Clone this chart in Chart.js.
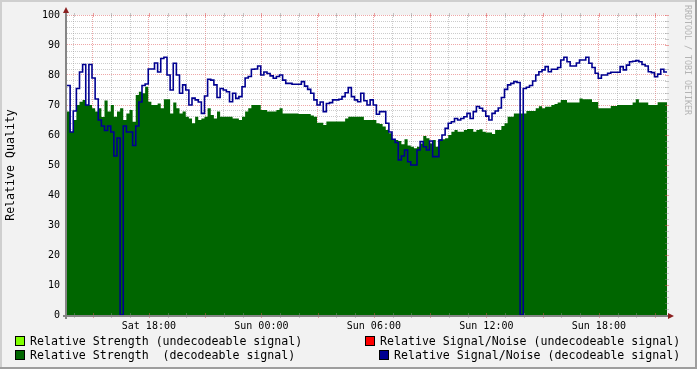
<!DOCTYPE html>
<html><head><meta charset="utf-8">
<script src="https://cdn.jsdelivr.net/npm/chart.js@4/dist/chart.umd.min.js"></script>
<style>
html,body{margin:0;padding:0;background:#F2F2F2;}
#wrap{position:relative;width:697px;height:369px;overflow:hidden;}
canvas{position:absolute;left:0;top:0;}
.lg{position:absolute;font-family:'DejaVu Sans Mono',monospace;font-size:11.6px;line-height:14px;white-space:pre;color:#000;}
.bx{position:absolute;width:8px;height:8px;border:1px solid #000;}
#wm{position:absolute;left:683px;top:5px;width:10px;writing-mode:vertical-rl;font-family:'DejaVu Sans Mono',monospace;font-size:8.3px;color:#B4B4B4;line-height:10px;white-space:pre;}
</style></head>
<body><div id="wrap"><canvas id="c" width="697" height="369"></canvas>
<div id="wm">RRDTOOL / TOBI OETIKER</div>
<div id="legend"></div>
</div>
<script>
// time base: first sample Sat 13:38 (minutes since Sat 00:00), 10-minute samples
const startMinute = 818;
const stepMinutes = 10;
const axisEndMinute = 2738;

// Relative Signal/Noise (decodeable signal), one value per sample
const snrDecodeable = [
 76.5, 61, 68, 75.5, 81, 83.5, 70, 83.5, 79, 72,
 65, 63, 61.5, 63, 61, 53, 59, 0, 63, 61,
 61, 56.5, 63, 71, 76.5, 77, 82, 82, 84, 81,
 85.5, 85.9, 80, 75, 83.9, 80, 73.9, 76.7, 75, 70,
 72.3, 71.7, 71, 67.2, 73, 78.6, 78.3, 76.7, 72.5, 75.5,
 75, 74.4, 71.1, 73.9, 72.2, 72.8, 76.1, 79, 79.5, 81.9,
 82, 83, 80, 81, 80.5, 79.7, 78.9, 79.5, 80, 78.3,
 77.2, 77.2, 76.9, 76.9, 76.9, 77.8, 76.3, 75.2, 73.9, 71.7,
 70, 71, 67.8, 70.5, 70.8, 71.7, 71.7, 71.9, 72.8, 74.1,
 75.8, 72.8, 71.7, 71.1, 73.9, 71.4, 70, 71.7, 70, 66.9,
 67.8, 67.8, 63.9, 61, 58.6, 57.5, 51.7, 53, 55, 51.1,
 50, 50, 55, 57.8, 56.1, 55, 58, 52.8, 52.8, 58.3,
 60, 62.2, 63.9, 64.4, 65.5, 65, 65.5, 66.1, 67.2, 65.5,
 67.8, 69.5, 68.9, 68, 66.3, 65, 67.2, 68, 69, 72.5,
 75.2, 76.7, 77.2, 77.8, 77.5, 0, 75.5, 75.9, 76.5, 78,
 80, 81.1, 81.7, 82.8, 81.1, 81.9, 81.9, 82.5, 85, 85.9,
 84.4, 83, 83, 84, 85, 85, 85.9, 83.9, 82.5, 80.6,
 78.9, 80, 80, 80.6, 80.9, 80.9, 80.9, 82.8, 81.7, 83.3,
 84.4, 84.6, 84.8, 84.4, 83.5, 83, 81.1, 80.8, 79.4, 80.3,
 81.9, 81
];

// Relative Strength (decodeable signal), one value per sample
const strengthDecodeable = [
 67.8, 61, 65, 70, 71.1, 71.7, 70, 70, 68.9, 67.8,
 68.9, 66, 71.5, 67.8, 70, 66.1, 67.8, 68.9, 65, 67.2,
 68.3, 64.4, 73.3, 74.4, 73.9, 76.1, 71.1, 70, 70, 70.5,
 68.9, 71.9, 71.9, 67.2, 70.8, 68.9, 67.2, 67.8, 66.1, 65.5,
 63.9, 66.1, 65, 65.5, 66.1, 68.9, 66.7, 65.5, 67.8, 66.1,
 66.1, 66.1, 66.1, 65.5, 65.5, 65, 66.1, 67.8, 68.9, 70,
 70, 70, 68.3, 68.3, 67.8, 67.8, 67.8, 68.3, 68.9, 67.2,
 67.2, 67.2, 67.2, 67.2, 67, 67, 67, 67, 66.5, 66.1,
 64.1, 64.1, 63.3, 64.5, 64.5, 64.5, 64.5, 64.5, 64.5, 65.5,
 66.1, 66.1, 66.1, 66.1, 66.1, 65, 65, 65, 65, 63.9,
 63.7, 62.8, 61.7, 60.6, 58.3, 58.3, 58, 56.9, 58.6, 56.5,
 56.1, 55.6, 56.1, 57.2, 59.7, 58.9, 57.2, 58.3, 56.1, 58.6,
 58.6, 58.9, 60, 61.1, 61.7, 61.1, 61.1, 61.7, 62, 62,
 61.1, 61.7, 61.9, 61.1, 60.8, 60.8, 60.3, 61.7, 61.7, 63,
 63.9, 66.1, 66.1, 67.2, 67.2, 67.2, 67.2, 68, 68, 68,
 68.9, 69.6, 68.9, 69.4, 69.4, 70, 70.3, 70.8, 71.7, 71.7,
 70.8, 70.8, 70.8, 70.8, 72.2, 71.9, 71.9, 71.9, 71, 71,
 68.9, 68.9, 68.9, 68.9, 69.7, 69.7, 70, 70, 70, 70,
 70, 70.8, 71.9, 70.8, 70.8, 70.8, 70, 70, 70, 70.9,
 70.9, 70.9
];

// no undecodeable samples in this period
const strengthUndecodeable = [];
const snrUndecodeable = [];

// x-axis labels
const timeLabelMinutes = [1080, 1440, 1800, 2160, 2520];
const timeLabels = ['Sat 18:00', 'Sun 00:00', 'Sun 06:00', 'Sun 12:00', 'Sun 18:00'];

// y-axis
const yMin = 0, yMax = 100, yMinorStep = 2, yMajorStep = 10;

const legendItems = [
  {text: 'Relative Strength (undecodeable signal)', color: '#80FF00', left: 15, top: 336, tx: 30},
  {text: 'Relative Signal/Noise (undecodeable signal)', color: '#FF0000', left: 365, top: 336, tx: 380},
  {text: 'Relative Strength  (decodeable signal)', color: '#006600', left: 15, top: 350, tx: 30},
  {text: 'Relative Signal/Noise (decodeable signal)', color: '#000090', left: 379, top: 350, tx: 394}
];

const leg = document.getElementById('legend');
legendItems.forEach(it => {
  const b = document.createElement('div'); b.className = 'bx';
  b.style.left = it.left + 'px'; b.style.top = it.top + 'px'; b.style.background = it.color;
  leg.appendChild(b);
  const t = document.createElement('div'); t.className = 'lg';
  t.style.left = it.tx + 'px'; t.style.top = (it.top - 2) + 'px'; t.textContent = it.text;
  leg.appendChild(t);
});

const nSamples = snrDecodeable.length;
function toPoints(arr) {
  const pts = arr.map((v, i) => ({x: i, y: v}));
  pts.push({x: arr.length, y: arr[arr.length - 1]});
  return pts;
}
const toMinute = v => Math.round(startMinute + v * stepMinutes);

const hourTicks = [];
for (let m = Math.ceil(startMinute / 60) * 60; m < axisEndMinute; m += 60) hourTicks.push((m - startMinute) / stepMinutes);
const yTicks = [];
for (let v = yMin; v <= yMax; v += yMinorStep) yTicks.push(v);

const GRID = 'rgba(143,143,143,0.45)';
const MGRID = 'rgba(222,79,79,0.5)';
const isMajorX = v => (toMinute(v) / 60) % 3 === 0;
const isMajorY = v => v % yMajorStep === 0;
const monoFont = 'DejaVu Sans Mono';

const framePlugin = {
  id: 'frame',
  beforeDraw(chart) {
    const {ctx, chartArea: a, width, height} = chart;
    ctx.save();
    ctx.fillStyle = '#F2F2F2'; ctx.fillRect(0, 0, width, height);
    ctx.fillStyle = '#CFCFCF'; ctx.fillRect(0, 0, width, 2); ctx.fillRect(0, 0, 2, height);
    ctx.fillStyle = '#9E9E9E'; ctx.fillRect(0, height - 2, width, 2); ctx.fillRect(width - 2, 0, 2, height);
    ctx.fillStyle = '#FFFFFF'; ctx.fillRect(a.left, a.top, a.right - a.left, a.bottom - a.top);
    ctx.restore();
  },
  afterDraw(chart) {
    const {ctx, chartArea: a, scales} = chart;
    ctx.save();
    ctx.lineWidth = 1;
    // small solid ticks at the ends of grid lines
    yTicks.forEach(v => {
      const y = Math.round(scales.y.getPixelForValue(v)) + 0.5;
      ctx.strokeStyle = isMajorY(v) ? MGRID : GRID;
      ctx.beginPath(); ctx.moveTo(a.right - 2, y); ctx.lineTo(a.right + 2, y); ctx.stroke();
    });
    hourTicks.forEach(v => {
      const x = Math.round(scales.x.getPixelForValue(v)) + 0.5;
      ctx.strokeStyle = isMajorX(v) ? MGRID : GRID;
      ctx.beginPath(); ctx.moveTo(x, a.top - 2); ctx.lineTo(x, a.top + 2); ctx.stroke();
      ctx.beginPath(); ctx.moveTo(x, a.bottom - 2); ctx.lineTo(x, a.bottom + 3); ctx.stroke();
    });
    // axes
    ctx.strokeStyle = '#858585'; ctx.lineWidth = 2;
    ctx.beginPath(); ctx.moveTo(a.left - 4, a.bottom + 1); ctx.lineTo(a.right + 2, a.bottom + 1); ctx.stroke();
    ctx.beginPath(); ctx.moveTo(a.left - 1, a.bottom + 4); ctx.lineTo(a.left - 1, a.top - 3); ctx.stroke();
    // arrows
    ctx.fillStyle = '#8B2020';
    ctx.beginPath(); ctx.moveTo(a.left - 4, a.top - 2); ctx.lineTo(a.left + 2, a.top - 2); ctx.lineTo(a.left - 1, a.top - 8); ctx.closePath(); ctx.fill();
    ctx.beginPath(); ctx.moveTo(a.right + 1, a.bottom - 2); ctx.lineTo(a.right + 1, a.bottom + 4); ctx.lineTo(a.right + 7, a.bottom + 1); ctx.closePath(); ctx.fill();
    ctx.restore();
  }
};

new Chart(document.getElementById('c'), {
  type: 'line',
  data: {
    datasets: [
      {
        label: legendItems[3].text,
        data: toPoints(snrDecodeable),
        stepped: true, borderColor: '#000090', borderWidth: 1.6,
        pointRadius: 0, fill: false, order: 0
      },
      {
        label: legendItems[2].text,
        data: toPoints(strengthDecodeable),
        stepped: true, borderWidth: 0, borderColor: 'rgba(0,0,0,0)',
        backgroundColor: '#006600', pointRadius: 0, fill: 'origin', order: 1
      }
    ]
  },
  options: {
    responsive: false, animation: false, devicePixelRatio: 1,
    layout: {padding: {left: 0, right: 30, top: 15, bottom: 34}},
    plugins: {legend: {display: false}, tooltip: {enabled: false}},
    scales: {
      x: {
        type: 'linear', min: 0, max: nSamples, z: 1,
        afterBuildTicks: s => { s.ticks = hourTicks.map(v => ({value: v})); },
        afterFit: s => { s.height = 20; },
        ticks: {
          autoSkip: false, maxRotation: 0, minRotation: 0, padding: 5, color: '#000',
          font: {family: monoFont, size: 10},
          callback: v => { const k = timeLabelMinutes.indexOf(toMinute(v)); return k >= 0 ? timeLabels[k] : ''; }
        },
        grid: {
          color: c => isMajorX(c.tick.value) ? MGRID : GRID, lineWidth: 1,
          drawTicks: false
        },
        border: {display: false, dash: [1, 1]}
      },
      y: {
        type: 'linear', min: yMin, max: yMax, z: 1,
        afterBuildTicks: s => { s.ticks = yTicks.map(v => ({value: v})); },
        afterFit: s => { s.width = 67; },
        ticks: {
          autoSkip: false, padding: 7, color: '#000',
          font: {family: monoFont, size: 10},
          callback: v => isMajorY(v) ? String(v) : ''
        },
        grid: {
          color: c => isMajorY(c.tick.value) ? MGRID : GRID, lineWidth: 1,
          drawTicks: false
        },
        border: {display: false, dash: [1, 1]},
        title: {
          display: true, text: 'Relative Quality', color: '#000',
          font: {family: monoFont, size: 11.6, weight: 'normal'},
          padding: {top: 4, bottom: 0}
        }
      }
    }
  },
  plugins: [framePlugin]
});
</script>
</body></html>
